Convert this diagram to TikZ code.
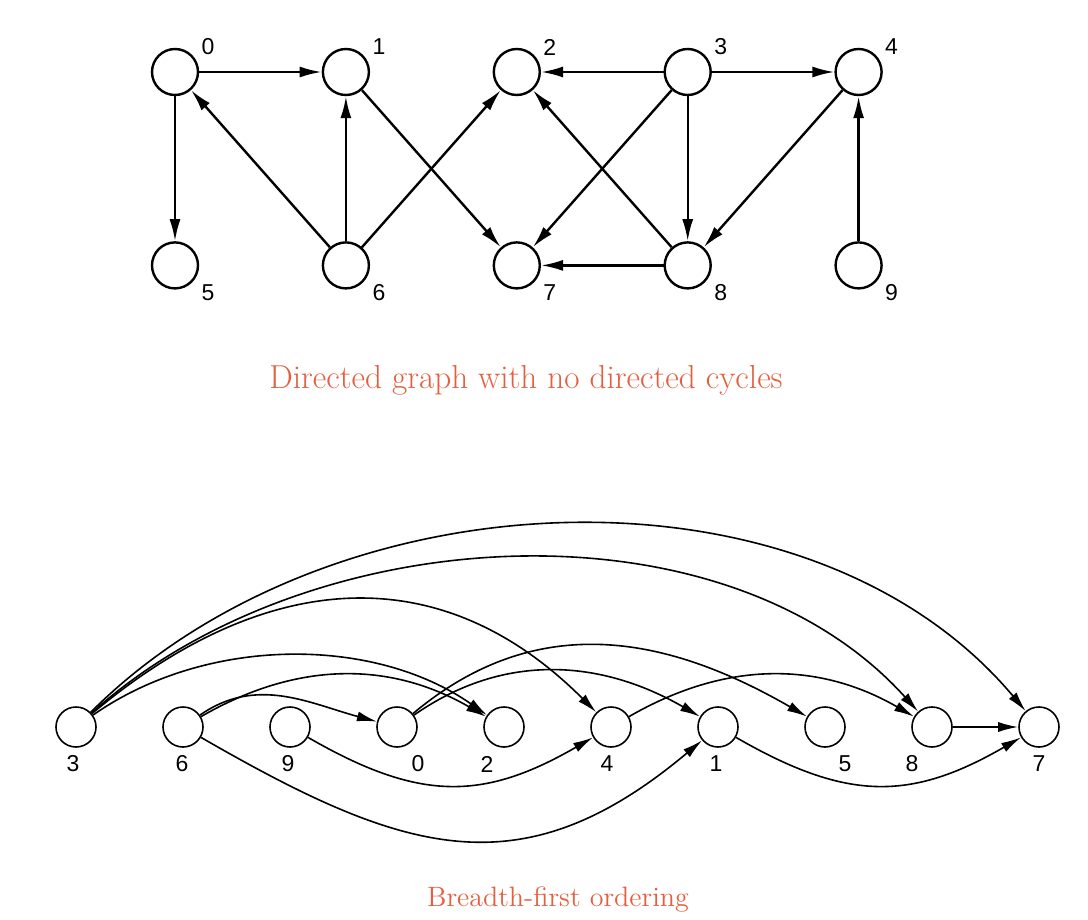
\documentclass[tikz,border=0pt]{standalone}
\usepackage{fontspec}
\setsansfont{Liberation Sans}
\usetikzlibrary{positioning,arrows.meta}
\definecolor{capred}{RGB}{226,96,64}

\begin{document}
\begin{tikzpicture}[
  x=0.5pt, y=0.5pt,
  >=Latex,
  vtx/.style={draw, circle, line width=1.2pt, minimum size=23pt, inner sep=0pt},
  dot/.style={draw, circle, line width=0.8pt, minimum size=20pt, inner sep=0pt},
  lbl/.style={font=\sffamily\fontsize{11.5}{13}\selectfont, inner sep=0pt},
  numup/.style={label={[lbl, xshift=16.5pt, yshift=12.5pt]center:#1}},
  numdn/.style={label={[lbl, xshift=16.5pt, yshift=-13.5pt]center:#1}},
  num/.style 2 args={label={[lbl, xshift=#2, yshift=-18.5pt]center:#1}},
  edge/.style={-{Latex[length=11pt, width=5.5pt]}, line width=1.2pt},
  arc/.style={-{Latex[length=10pt, width=5pt]}, line width=0.8pt},
  capt/.style={text=capred, font=\fontsize{14}{16}\selectfont}
]
  \useasboundingbox (0,0) rectangle (1088,-920);

  \node[vtx, numup=0] (a0) at (175,-72) {};
  \node[vtx, numup=1, right=61.25pt of a0] (a1) {};
  \node[vtx, numup=2, right=61.25pt of a1] (a2) {};
  \node[vtx, numup=3, right=61.25pt of a2] (a3) {};
  \node[vtx, numup=4, right=61.25pt of a3] (a4) {};
  \node[vtx, numdn=5, below=72.5pt of a0] (a5) {};
  \node[vtx, numdn=6, below=72.5pt of a1] (a6) {};
  \node[vtx, numdn=7, below=72.5pt of a2] (a7) {};
  \node[vtx, numdn=8, below=72.5pt of a3] (a8) {};
  \node[vtx, numdn=9, below=72.5pt of a4] (a9) {};

  \draw[edge] (a0) -- (a1);
  \draw[edge] (a0) -- (a5);
  \draw[edge] (a6) -- (a0);
  \draw[edge] (a6) -- (a1);
  \draw[edge] (a6) -- (a2);
  \draw[edge] (a1) -- (a7);
  \draw[edge] (a3) -- (a2);
  \draw[edge] (a3) -- (a4);
  \draw[edge] (a3) -- (a7);
  \draw[edge] (a3) -- (a8);
  \draw[edge] (a8) -- (a2);
  \draw[edge] (a8) -- (a7);
  \draw[edge] (a4) -- (a8);
  \draw[edge] (a9) -- (a4);

  \node[capt, font=\fontsize{16.6}{19}\selectfont] (top) at (526,-380) {Directed graph with no directed cycles};

  \node[dot, num={3}{-1.5pt}] (b3) at (76,-727) {};
  \node[dot, num={6}{-0.5pt}, right=32.7pt of b3] (b6) {};
  \node[dot, num={9}{-1pt}, right=32.7pt of b6] (b9) {};
  \node[dot, num={0}{10.5pt}, right=32.7pt of b9] (b0) {};
  \node[dot, num={2}{-8.5pt}, right=32.7pt of b0] (b2) {};
  \node[dot, num={4}{-2pt}, right=32.7pt of b2] (b4) {};
  \node[dot, num={1}{-1pt}, right=32.7pt of b4] (b1) {};
  \node[dot, num={5}{10pt}, right=32.7pt of b1] (b5) {};
  \node[dot, num={8}{-10pt}, right=32.7pt of b5] (b8) {};
  \node[dot, num={7}{0pt}, right=32.7pt of b8] (b7) {};

  \draw[arc] (b3) to[out=45, in=130, looseness=0.93] (b7);
  \draw[arc] (b3) to[out=42, in=132, looseness=0.9] (b8);
  \draw[arc] (b3) to[out=40, in=135, looseness=1.13] (b4);
  \draw[arc] (b3) to[out=35, in=145, looseness=0.9] (b2);
  \draw[arc] (b6) to[out=35, in=165] (b0);
  \draw[arc] (b6) to[out=30, in=150] (b2);
  \draw[arc] (b0) to[out=40, in=150, looseness=1.05] (b5);
  \draw[arc] (b0) to[out=35, in=150] (b1);
  \draw[arc] (b4) to[out=30, in=150] (b8);
  \draw[arc] (b6) to[out=-30, in=-140, looseness=1.2] (b1);
  \draw[arc] (b9) to[out=-30, in=-150, looseness=1.15] (b4);
  \draw[arc] (b1) to[out=-30, in=-150, looseness=1.15] (b7);
  \draw[arc] (b8) -- (b7);

  \node[capt] (bottom) at (558,-900) {Breadth-first ordering};
\end{tikzpicture}
\end{document}
